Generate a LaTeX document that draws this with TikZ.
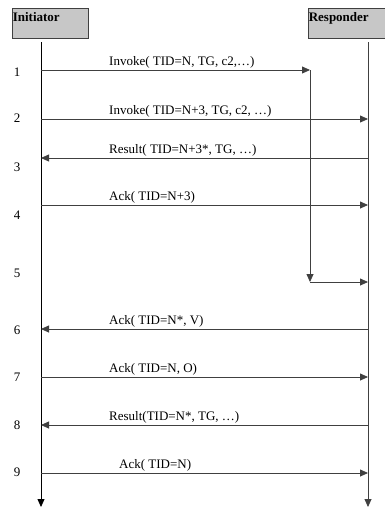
\documentclass[tikz,border=0pt]{standalone}
\usepackage{fontspec}
\setmainfont{Liberation Serif}
\usetikzlibrary{positioning,arrows.meta}
\tikzset{
  party/.style={draw=black!75,fill=black!22,line width=0.8pt,minimum width=76pt,minimum height=30pt,inner sep=0pt},
  pname/.style={font=\fontsize{13}{15}\selectfont\bfseries,inner sep=1pt},
  life/.style={line width=0.8pt,-{Triangle[length=8pt,width=7pt]}},
  msg/.style={line width=0.8pt,black!75,-{Triangle[length=8pt,width=7pt]}},
  msgtxt/.style={font=\fontsize{13}{15}\selectfont,inner sep=0pt,anchor=base west},
  rownum/.style={font=\fontsize{13}{15}\selectfont,inner sep=1pt},
}
\begin{document}
\begin{tikzpicture}[x=1pt,y=-1pt]
  \useasboundingbox (0,0) rectangle (385,509);
  % the two parties
  \node[party] (ini) at (50,23) {};
  \node[pname,anchor=north west] (initxt) at ([yshift=-4pt]ini.north west) {Initiator};
  \node[party,minimum width=84pt] (res) at (350,23) {};
  \node[pname,anchor=north west] (restxt) at ([yshift=-4pt]res.north west) {Responder};
  % lifelines
  \coordinate (itop) at (41,42);  \coordinate (ibot) at (41,507);
  \coordinate (rtop) at (368,42); \coordinate (rbot) at (368,507);
  \draw[life] (itop) -- (ibot);
  \draw[life,black!75] (rtop) -- (rbot);
  % row numbers
  \foreach \n/\y in {1/72,2/118,3/167,4/215,5/273,6/330,7/377,8/425,9/472}
    \node[rownum] (num\n) at (17,\y) {\n};
  % messages initiator -> responder
  \foreach \n/\y/\lx/\txt in {2/119/109/{Invoke( TID=N+3, TG, c2, …)},
                             4/205/109/{Ack( TID=N+3)},
                             7/377/109/{Ack( TID=N, O)},
                             9/473/119/{Ack( TID=N)}}{
    \coordinate (i\n) at (41,\y); \coordinate (r\n) at (368,\y);
    \draw[msg] (i\n) -- (r\n);
    \node[msgtxt] (t\n) at (\lx,\y-5) {\txt};
  }
  % messages responder -> initiator
  \foreach \n/\y/\lx/\txt in {3/158/109/{Result( TID=N+3*, TG, …)},
                             6/329/109/{Ack( TID=N*, V)},
                             8/425/109/{Result(TID=N*, TG, …)}}{
    \coordinate (i\n) at (41,\y); \coordinate (r\n) at (368,\y);
    \draw[msg] (r\n) -- (i\n);
    \node[msgtxt] (t\n) at (\lx,\y-5) {\txt};
  }
  % first invoke, held back and delivered late
  \coordinate (i1) at (41,70); \coordinate (m1) at (310,70);
  \coordinate (m5) at (310,282); \coordinate (r5) at (368,282);
  \draw[msg] (i1) -- (m1);
  \node[msgtxt] (t1) at (109,65) {Invoke( TID=N, TG, c2,…)};
  \draw[msg] (m1) -- (m5);
  \draw[msg] (m5) -- (r5);
\end{tikzpicture}
\end{document}
